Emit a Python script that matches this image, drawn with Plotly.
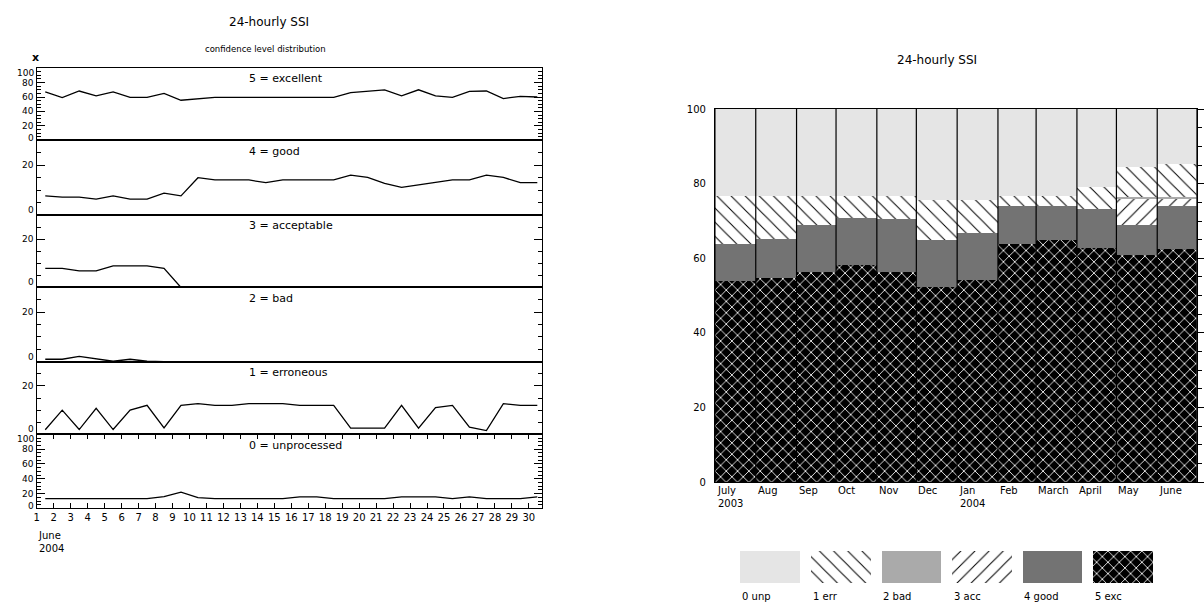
import plotly.graph_objects as go

# ---------------- data: left panels (daily, June 2004) ----------------
day_numbers = [1, 2, 3, 4, 5, 6, 7, 8, 9, 10, 11, 12, 13, 14, 15,
               16, 17, 18, 19, 20, 21, 22, 23, 24, 25, 26, 27, 28, 29, 30]
excellent = [67.0, 59.2, 68.3, 61.5, 67.0, 59.6, 59.6, 65.0, 55.5, 57.8,
             59.6, 59.6, 59.6, 59.6, 59.6, 59.6, 59.6, 59.6, 66.0, 68.3,
             70.0, 61.5, 70.0, 61.5, 59.6, 67.8, 68.3, 57.8, 61.0, 60.0]
good = [7.7, 7.2, 7.2, 6.4, 7.7, 6.4, 6.4, 8.8, 7.7, 15.0,
        14.1, 14.1, 14.1, 13.0, 14.1, 14.1, 14.1, 14.1, 16.0, 15.1,
        12.7, 11.1, 12.1, 13.0, 14.1, 14.1, 16.0, 15.1, 13.0, 13.0]
acceptable = [7.9, 7.9, 6.9, 6.9, 9.0, 9.0, 9.0, 7.9, 0.0, 0.0,
              0.0, 0.0, 0.0, 0.0, 0.0, 0.0, 0.0, 0.0, 0.0, 0.0,
              0.0, 0.0, 0.0, 0.0, 0.0, 0.0, 0.0, 0.0, 0.0, 0.0]
bad = [1.0, 1.0, 2.2, 1.3, 0.2, 1.0, 0.2, 0.0, 0.0, 0.0,
       0.0, 0.0, 0.0, 0.0, 0.0, 0.0, 0.0, 0.0, 0.0, 0.0,
       0.0, 0.0, 0.0, 0.0, 0.0, 0.0, 0.0, 0.0, 0.0, 0.0]
erroneous = [1.9, 10.0, 2.0, 10.8, 2.0, 10.0, 12.0, 2.7, 12.0, 12.7,
             12.0, 12.0, 12.7, 12.7, 12.7, 12.0, 12.0, 12.0, 2.6, 2.6,
             2.6, 12.0, 2.6, 11.1, 12.0, 3.0, 1.6, 12.7, 12.0, 12.0]
unprocessed = [13.3, 13.3, 13.3, 13.3, 13.3, 13.3, 13.3, 15.9, 22.1, 14.6,
               13.3, 13.3, 13.3, 13.3, 13.3, 15.5, 15.5, 13.3, 13.3, 13.3,
               13.3, 15.5, 15.5, 15.5, 13.3, 15.5, 13.3, 13.3, 13.3, 15.5]

panel_titles = ["5 = excellent", "4 = good", "3 = acceptable",
                "2 = bad", "1 = erroneous", "0 = unprocessed"]
panel_series = [excellent, good, acceptable, bad, erroneous, unprocessed]
panel_ymax = [100, 30, 30, 30, 30, 100]
ticks_pct = [0, 20, 40, 60, 80, 100]
ticks_small = [0, 20]

# ---------------- data: right chart (monthly, July 2003 - June 2004) ----------------
months = ["July", "Aug", "Sep", "Oct", "Nov", "Dec", "Jan", "Feb", "March", "April", "May", "June"]
month_years = ["2003", "", "", "", "", "", "2004", "", "", "", "", ""]
month_days = [31, 31, 30, 31, 30, 31, 31, 29, 31, 30, 31, 30]
m_exc = [53.9, 54.7, 56.2, 58.3, 56.2, 52.3, 54.2, 63.7, 64.9, 62.8, 60.8, 62.4]
m_good = [9.8, 10.4, 12.6, 12.6, 14.4, 12.6, 12.6, 10.2, 9.0, 10.5, 8.1, 11.5]
m_acc = [0.0, 0.0, 0.0, 0.0, 0.0, 0.0, 0.0, 0.0, 0.0, 0.0, 7.0, 2.2]
m_bad = [0.0, 0.0, 0.0, 0.0, 0.0, 0.0, 0.0, 0.0, 0.0, 0.0, 0.5, 0.3]
m_err = [13.1, 11.7, 8.0, 5.9, 6.2, 10.8, 8.9, 2.9, 2.9, 5.9, 8.1, 8.9]
m_unp = [23.2, 23.2, 23.2, 23.2, 23.2, 24.3, 24.3, 23.2, 23.2, 20.8, 15.5, 14.7]

legend_labels = ["0 unp", "1 err", "2 bad", "3 acc", "4 good", "5 exc"]

# ---------------- styling ----------------
W, H = 1204, 608
FONT = "DejaVu Sans"


def fx(p):
    return p / W


def fy(p):
    return 1 - p / H


styles = {
    "5 exc": dict(color="black", pattern=dict(shape="x", fgcolor="white", bgcolor="black",
                                               size=8, solidity=0.2, fillmode="replace")),
    "4 good": dict(color="#737373"),
    "3 acc": dict(color="white", pattern=dict(shape="/", fgcolor="black", bgcolor="white",
                                               size=10, solidity=0.1, fillmode="replace")),
    "2 bad": dict(color="#aaaaaa"),
    "1 err": dict(color="white", pattern=dict(shape="\\", fgcolor="black", bgcolor="white",
                                               size=10, solidity=0.1, fillmode="replace")),
    "0 unp": dict(color="#e5e5e5"),
}

fig = go.Figure()
layout = dict(width=W, height=H, margin=dict(l=0, r=0, t=0, b=0),
              paper_bgcolor="white", plot_bgcolor="white", showlegend=False,
              font=dict(family=FONT, size=10, color="black"),
              barmode="stack", bargap=0)
annotations = []
shapes = []

# ---------------- left: six stacked panels ----------------
edges = [64.3, 137.8, 214.0, 287.7, 363.3, 437.3, 512.7]
x_left, x_right = 34, 543
xs = [d + 0.5 for d in day_numbers]
for k in range(6):
    n = k + 1
    xa = "x" if n == 1 else f"x{n}"
    ya = "y" if n == 1 else f"y{n}"
    fig.add_trace(go.Scatter(x=xs, y=panel_series[k], mode="lines",
                             line=dict(color="black", width=1.3),
                             xaxis=xa, yaxis=ya, hoverinfo="skip"))
    last = (k == 5)
    layout["xaxis" if n == 1 else f"xaxis{n}"] = dict(
        domain=[fx(x_left), fx(x_right)], range=[1, 30.8], anchor=ya,
        showgrid=False, zeroline=False, showline=True, linecolor="black", linewidth=1,
        mirror="ticks" if last else True,
        ticks="inside" if last else "", ticklen=5, tickcolor="black",
        tickvals=day_numbers, showticklabels=last, tickfont=dict(size=10),
    )
    ymax = panel_ymax[k]
    tv = ticks_pct if ymax == 100 else ticks_small
    layout["yaxis" if n == 1 else f"yaxis{n}"] = dict(
        domain=[fy(edges[k + 1]), fy(edges[k])], range=[0, ymax], anchor=xa,
        showgrid=False, zeroline=False, showline=True, linecolor="black", linewidth=1,
        mirror="ticks", ticks="inside", ticklen=8, tickcolor="black",
        tickvals=tv, showticklabels=False,
        minor=dict(dtick=5, tick0=0, ticks="inside", ticklen=4, tickcolor="black", showgrid=False),
    )
    # tick labels, nudged inside the panel at its edges as in the original
    for v in tv:
        if v == ymax:
            shift = -5
        elif v == 0:
            shift = 5 if ymax == 30 else 2
        else:
            shift = 0
        annotations.append(dict(text=str(v), xref="paper", yref=ya, x=fx(32), y=v,
                                xanchor="right", yanchor="middle", yshift=shift,
                                showarrow=False, font=dict(size=9), borderpad=0))
    annotations.append(dict(text=panel_titles[k], xref="paper", yref="paper",
                            x=fx(246), y=fy(edges[k] + 11), xanchor="left", yanchor="middle",
                            showarrow=False, font=dict(size=11)))

annotations += [
    dict(text="24-hourly SSI", xref="paper", yref="paper", x=fx(268), y=fy(17),
         xanchor="center", yanchor="middle", showarrow=False, font=dict(size=12)),
    dict(text="confidence level distribution", xref="paper", yref="paper", x=fx(264), y=fy(45),
         xanchor="center", yanchor="middle", showarrow=False, font=dict(size=8.5)),
    dict(text="<b>x</b>", xref="paper", yref="paper", x=fx(33), y=fy(53),
         xanchor="center", yanchor="middle", showarrow=False, font=dict(size=11)),
    dict(text="June<br>2004", xref="paper", yref="paper", x=fx(33), y=fy(533),
         xanchor="left", yanchor="top", align="left", showarrow=False, font=dict(size=10)),
]

# ---------------- right: monthly stacked bars ----------------
starts = []
acc_days = 0
for d in month_days:
    starts.append(acc_days)
    acc_days += d
total_days = acc_days

stack = [("5 exc", m_exc), ("4 good", m_good), ("3 acc", m_acc),
         ("2 bad", m_bad), ("1 err", m_err), ("0 unp", m_unp)]
for name, vals in stack:
    fig.add_trace(go.Bar(x=starts, y=vals, width=month_days, offset=0,
                         marker=dict(line=dict(width=0), **styles[name]),
                         xaxis="x7", yaxis="y7", name=name, hoverinfo="skip"))

layout["xaxis7"] = dict(domain=[fx(716.7), fx(1201.7)], range=[0, total_days], anchor="y7",
                        showgrid=False, zeroline=False, showline=True, linecolor="black",
                        linewidth=1, mirror=True, ticks="", showticklabels=False)
layout["yaxis7"] = dict(domain=[fy(486), fy(106)], range=[0, 100], anchor="x7",
                        showgrid=False, zeroline=False, showline=True, linecolor="black",
                        linewidth=1, mirror=True, ticks="", tickvals=ticks_pct,
                        tickfont=dict(size=10), ticklabelstandoff=6)
layout["yaxis8"] = dict(overlaying="y7", anchor="x7", side="right", range=[0, 100],
                        showgrid=False, zeroline=False, showline=False, ticks="outside",
                        ticklen=7, tickcolor="black", tickvals=ticks_pct,
                        showticklabels=False,
                        minor=dict(dtick=5, tick0=0, ticks="outside", ticklen=4,
                                   tickcolor="black", showgrid=False))
fig.add_trace(go.Scatter(x=[None], y=[None], xaxis="x7", yaxis="y8", hoverinfo="skip",
                         showlegend=False))

for s in starts + [total_days]:
    shapes.append(dict(type="line", xref="x7", yref="y7", x0=s, x1=s, y0=0, y1=100,
                       line=dict(color="black", width=1.2)))

for s, m, yr in zip(starts, months, month_years):
    txt = m if not yr else f"{m}<br>{yr}"
    annotations.append(dict(text=txt, xref="x7", yref="paper", x=s, y=fy(487),
                            xanchor="left", yanchor="top", align="left", showarrow=False,
                            font=dict(size=10)))

annotations.append(dict(text="24-hourly SSI", xref="paper", yref="paper", x=fx(940), y=fy(56),
                        xanchor="center", yanchor="middle", showarrow=False,
                        font=dict(size=12)))

# ---------------- legend drawn as its own small bar axis ----------------
box_w = 0.845
for i, lab in enumerate(legend_labels):
    fig.add_trace(go.Bar(x=[i], y=[1], width=box_w, marker=dict(line=dict(width=0), **styles[lab]),
                         xaxis="x9", yaxis="y9", hoverinfo="skip"))
    annotations.append(dict(text=lab, xref="x9", yref="paper", x=i - box_w / 2, y=fy(602),
                            xanchor="left", yanchor="middle", showarrow=False,
                            font=dict(size=10)))
layout["xaxis9"] = dict(domain=[fx(736.5), fx(1162.5)], range=[-0.5, len(legend_labels) - 0.5],
                        anchor="y9", visible=False)
layout["yaxis9"] = dict(domain=[fy(589), fy(556)], range=[0, 1], anchor="x9", visible=False)

layout["annotations"] = annotations
layout["shapes"] = shapes
fig.update_layout(**layout)

fig.write_html("out.html", config={"displayModeBar": False},
               post_script="document.body.style.margin='0';")
